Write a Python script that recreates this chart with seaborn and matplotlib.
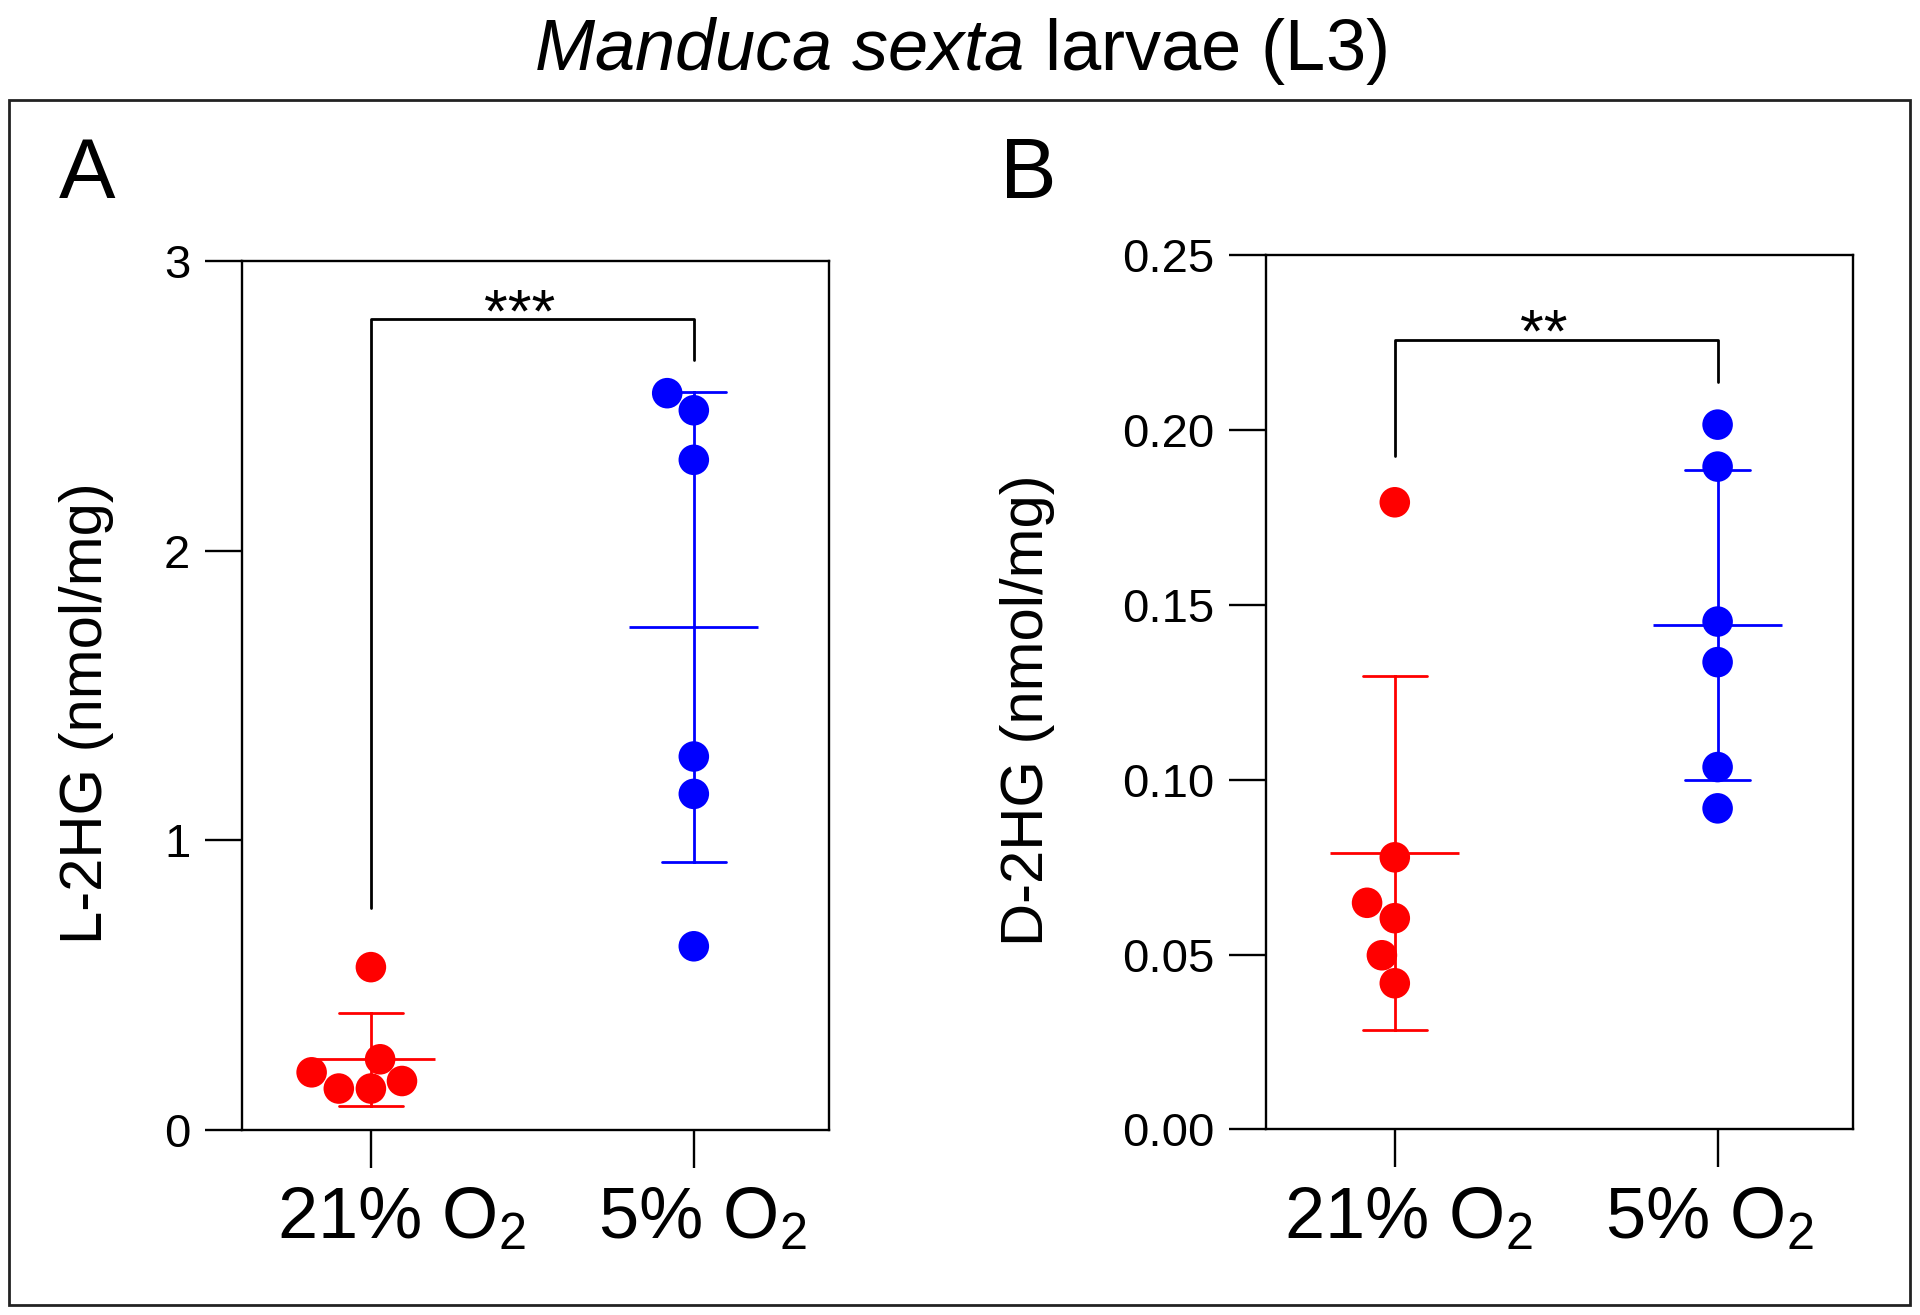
# Manduca sexta larvae (L3) - L-2HG and D-2HG under normoxia / hypoxia
import numpy as np
import pandas as pd
import matplotlib
matplotlib.use('Agg')
import matplotlib.pyplot as plt
import matplotlib.transforms as mtransforms
import seaborn as sns
from matplotlib.patches import Rectangle

# ---- data ----
groups = ['21% O$_2$', '5% O$_2$']
colors = ['#ff0000', '#0000ff']

l2hg_21 = [0.562, 0.244, 0.143, 0.199, 0.143, 0.169]
l2hg_5 = [2.543, 2.484, 2.313, 1.289, 1.160, 0.634]

d2hg_21 = [0.1793, 0.0778, 0.0604, 0.0648, 0.0498, 0.0418]
d2hg_5 = [0.2015, 0.1895, 0.1452, 0.1336, 0.1036, 0.0918]

# significance brackets: (left leg bottom, top, right leg bottom, stars baseline, label)
bracket_a = (0.765, 2.80, 2.657, 2.755, '***')
bracket_b = (0.1926, 0.2256, 0.2136, 0.2223, '**')

sns.set_style('ticks')
plt.rcParams['font.family'] = ['Liberation Sans', 'DejaVu Sans']
plt.rcParams['mathtext.fontset'] = 'custom'
plt.rcParams['mathtext.rm'] = 'Liberation Sans'
plt.rcParams['mathtext.it'] = 'Liberation Sans:italic'
for key in ['text.color', 'axes.labelcolor', 'xtick.color', 'ytick.color', 'axes.edgecolor']:
    plt.rcParams[key] = 'black'


def make_df(a, b):
    return pd.DataFrame({
        'group': [groups[0]] * len(a) + [groups[1]] * len(b),
        'value': a + b,
    })


def draw_panel(ax, df, bracket, ylim, yticks, yfmt, ylabel, label_x, label_dx):
    sns.swarmplot(data=df, x='group', y='value', hue='group', palette=colors,
                  size=22, linewidth=0, legend=False, ax=ax, zorder=3)
    sns.pointplot(data=df, x='group', y='value', hue='group', palette=colors,
                  errorbar='sd', capsize=0.2, linestyle='none', marker='',
                  err_kws={'linewidth': 2.0}, legend=False, ax=ax)
    # mean lines
    means = df.groupby('group', sort=False)['value'].mean()
    pos = np.arange(len(groups))
    ax.hlines(means.values, pos - 0.2, pos + 0.2, colors=colors, linewidth=2.0, zorder=2)

    # bracket
    y_left, y_top, y_right, y_star, stars = bracket
    ax.plot([0, 0, 1, 1], [y_left, y_top, y_top, y_right], color='black', lw=2.0,
            clip_on=False)
    ax.text(0.46, y_star, stars, ha='center', va='baseline', fontsize=44)

    ax.set_xlim(-0.4, 1.42)
    ax.set_ylim(*ylim)
    ax.set_yticks(yticks)
    ax.set_yticklabels([yfmt.format(t) for t in yticks])
    ax.set_xlabel('')
    ax.set_ylabel(ylabel, fontsize=43)
    ax.yaxis.set_label_coords(label_x, 0.48)

    for sp in ax.spines.values():
        sp.set_visible(True)
        sp.set_linewidth(1.7)
        sp.set_color('black')
    ax.tick_params(axis='both', direction='out', length=27, width=1.7, color='black')
    ax.tick_params(axis='y', labelsize=34, pad=10)
    ax.tick_params(axis='x', labelsize=52, pad=14)

    # labels sit a little off their ticks in the original
    for lab, dx in zip(ax.get_xticklabels(), label_dx):
        lab.set_transform(lab.get_transform() +
                          mtransforms.ScaledTranslation(dx / 72, 0, ax.figure.dpi_scale_trans))


fig = plt.figure(figsize=(19.2, 13.15), dpi=100)
ax_a = fig.add_axes([0.1259, 0.1407, 0.3061, 0.661])
ax_b = fig.add_axes([0.6592, 0.1411, 0.3060, 0.665])

draw_panel(ax_a, make_df(l2hg_21, l2hg_5), bracket_a, (0, 3), [0, 1, 2, 3], '{:g}',
           'L-2HG (nmol/mg)', -0.217, [22, 6])
draw_panel(ax_b, make_df(d2hg_21, d2hg_5), bracket_b, (0, 0.25),
           [0, 0.05, 0.10, 0.15, 0.20, 0.25], '{:.2f}', 'D-2HG (nmol/mg)', -0.358, [10, -6])

# title, panel letters and outer frame
fig.text(0.5, 0.9468, r'$\it{Manduca\ sexta}$ larvae (L3)', ha='center', va='baseline',
         fontsize=52)
fig.text(0.0452, 0.8492, 'A', ha='center', va='baseline', fontsize=61)
fig.text(0.5357, 0.8492, 'B', ha='center', va='baseline', fontsize=61)
fig.add_artist(Rectangle((0.0047, 0.0076), 0.990, 0.9163, transform=fig.transFigure,
                         fill=False, edgecolor='#222222', linewidth=2.0))

fig.savefig('out.png', dpi=100)
